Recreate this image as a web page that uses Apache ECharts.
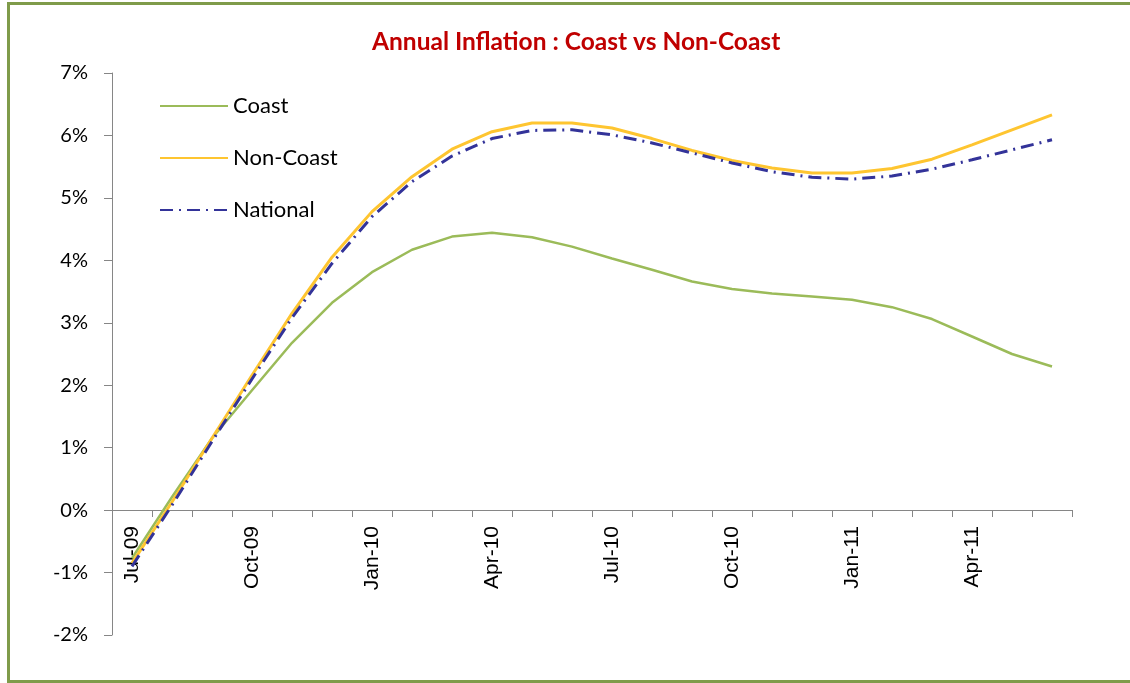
<!DOCTYPE html>
<html>
<head>
<meta charset="utf-8">
<script src="https://cdn.jsdelivr.net/npm/echarts@6/dist/echarts.min.js"></script>
<style>
    html, body {margin:0;padding:0;background:#fff;overflow:hidden;}
    #chart {position:absolute;left:0;top:0;width:1130px;height:683px;}
    .frame {position:absolute;left:7px;top:2px;width:1140px;height:675px;border:3px solid #7f9b4a;pointer-events:none;}
</style>
</head>
<body>
<div id="chart"></div>
<div class="frame"></div>
<script>
    // months on the x axis
    var months = ['Jul-09','Aug-09','Sep-09','Oct-09','Nov-09','Dec-09',
                  'Jan-10','Feb-10','Mar-10','Apr-10','May-10','Jun-10',
                  'Jul-10','Aug-10','Sep-10','Oct-10','Nov-10','Dec-10',
                  'Jan-11','Feb-11','Mar-11','Apr-11','May-11','Jun-11'];

    // annual inflation, %
    var coast    = [-0.77, 0.21, 1.15, 1.92, 2.68, 3.32, 3.81, 4.17, 4.38, 4.44, 4.37, 4.22,
                     4.03, 3.85, 3.66, 3.54, 3.47, 3.42, 3.37, 3.25, 3.06, 2.78, 2.50, 2.30];
    var nonCoast = [-0.85, 0.13, 1.15, 2.16, 3.15, 4.05, 4.78, 5.34, 5.78, 6.06, 6.20, 6.20,
                     6.12, 5.95, 5.76, 5.60, 5.48, 5.40, 5.40, 5.47, 5.62, 5.85, 6.09, 6.33];
    var national = [-0.90, 0.08, 1.10, 2.10, 3.08, 3.95, 4.70, 5.26, 5.67, 5.95, 6.08, 6.09,
                     6.01, 5.88, 5.72, 5.56, 5.42, 5.33, 5.30, 5.35, 5.46, 5.61, 5.77, 5.93];

    var chart = echarts.init(document.getElementById('chart'));
    var axisGrey = '#868686';

    var option = {
        animation: false,
        backgroundColor: '#fff',
        title: {
            text: 'Annual Inflation : Coast vs Non-Coast',
            left: 367,
            top: 25,
            textStyle: {color: '#c00000', fontFamily: 'Lato', fontWeight: 'bold', fontSize: 24.5}
        },
        legend: {
            orient: 'vertical',
            left: 154,
            top: 90,
            itemWidth: 68,
            itemHeight: 14,
            itemGap: 30,
            itemStyle: {opacity: 0},
            textStyle: {fontFamily: 'Lato', fontSize: 22, color: '#000'},
            data: ['Coast', 'Non-Coast', 'National']
        },
        grid: {left: 112, right: 58, top: 73, bottom: 48, containLabel: false, outerBoundsMode: 'none'},
        xAxis: {
            type: 'category',
            data: months,
            boundaryGap: true,
            offset: -125,
            axisLine: {onZero: false, lineStyle: {color: axisGrey, width: 1}},
            axisTick: {show: true, interval: 0, length: 7, lineStyle: {color: axisGrey}},
            axisLabel: {
                interval: 2,
                rotate: 90,
                margin: 16,
                color: '#000',
                fontFamily: 'Liberation Sans',
                fontSize: 21
            }
        },
        yAxis: {
            type: 'value',
            min: -2,
            max: 7,
            interval: 1,
            splitLine: {show: false},
            axisLine: {show: true, lineStyle: {color: axisGrey, width: 1}},
            axisTick: {show: true, length: 8, lineStyle: {color: axisGrey}},
            axisLabel: {
                margin: 24,
                color: '#000',
                fontFamily: 'Lato',
                fontSize: 20,
                formatter: function (v) { return v + '%'; }
            }
        },
        series: [
            {
                name: 'Coast',
                type: 'line',
                data: coast,
                symbol: 'none',
                color: '#9bbb59',
                lineStyle: {color: '#9bbb59', width: 2.5}
            },
            {
                name: 'Non-Coast',
                type: 'line',
                data: nonCoast,
                symbol: 'none',
                color: '#fec530',
                lineStyle: {color: '#fec530', width: 3}
            },
            {
                name: 'National',
                type: 'line',
                data: national,
                symbol: 'none',
                color: '#333399',
                lineStyle: {color: '#333399', width: 3, type: [13, 6, 2, 6]}
            }
        ]
    };
    chart.setOption(option);
</script>
</body>
</html>
